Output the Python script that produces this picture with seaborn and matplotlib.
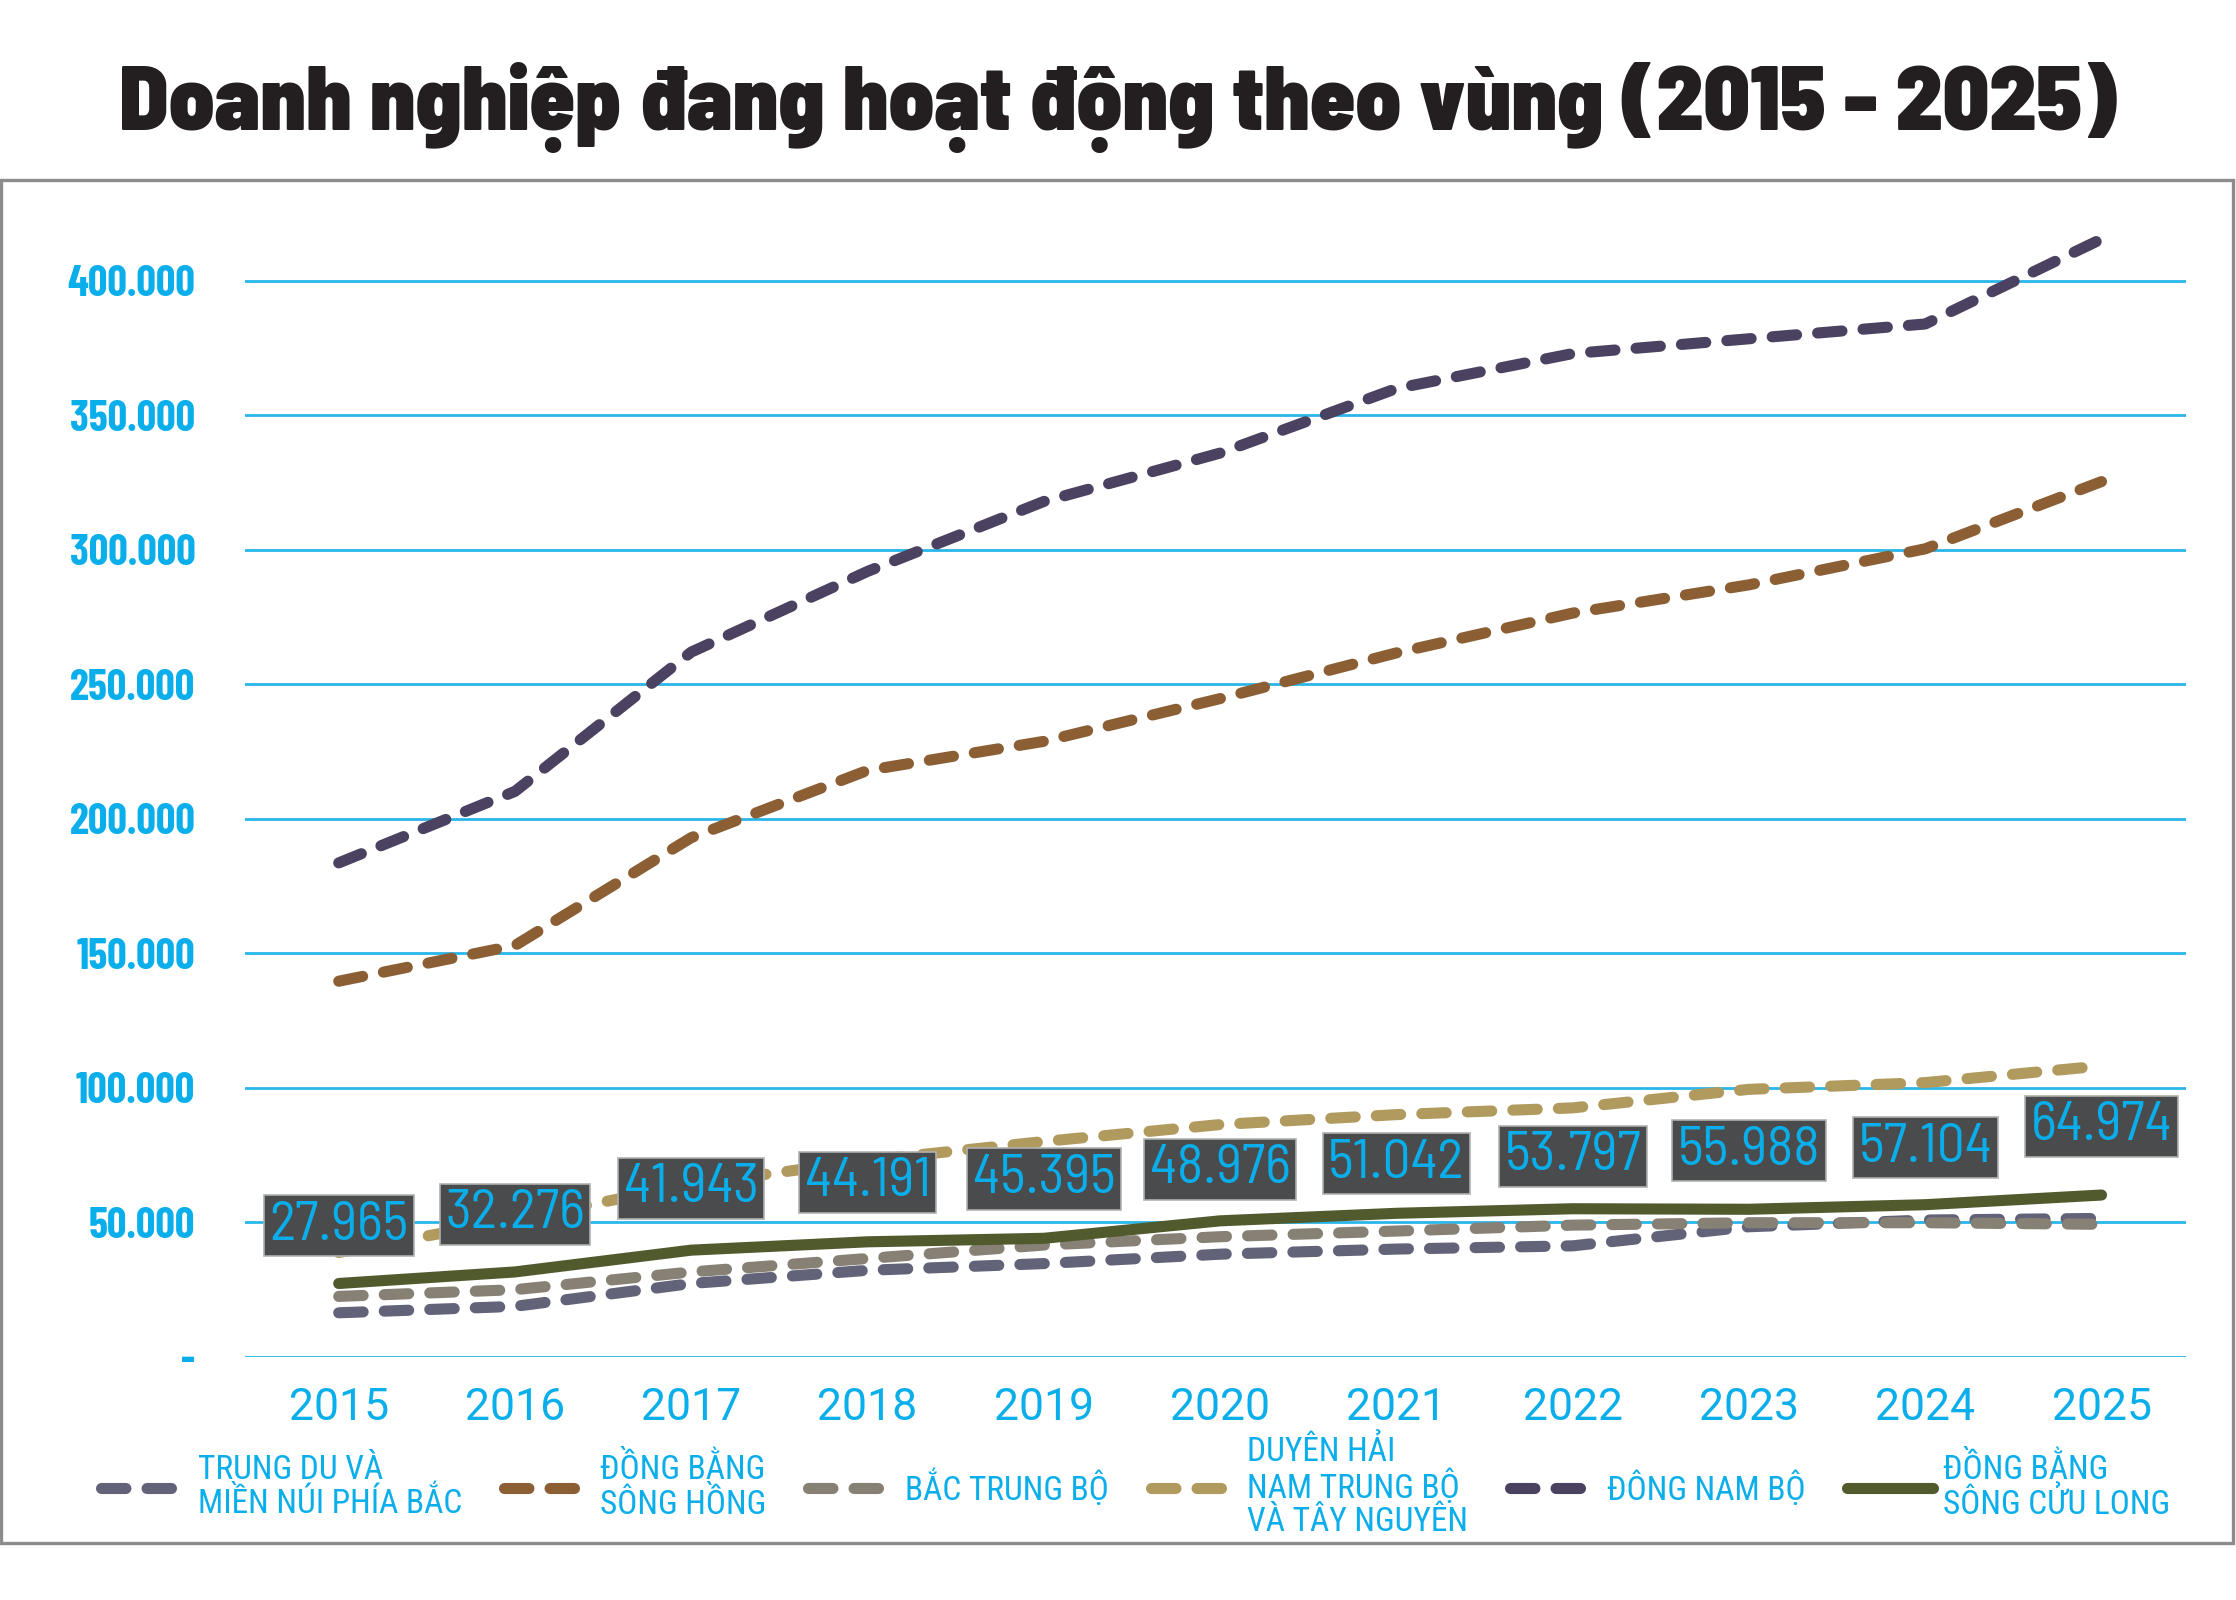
import numpy as np
import pandas as pd
import seaborn as sns
import matplotlib
matplotlib.use("Agg")
import matplotlib.pyplot as plt
from matplotlib.patches import Rectangle

# data
years = [2015, 2016, 2017, 2018, 2019, 2020, 2021, 2022, 2023, 2024, 2025]
trung_du = [16300, 18700, 27200, 32100, 34600, 38100, 40000, 41200, 48300, 50800, 51400]
dong_bang_song_hong = [139600, 152900, 193000, 218000, 228800, 244700, 261700, 276500, 287000, 300400, 325400]
bac_trung_bo = [22400, 24900, 31500, 36500, 41500, 44600, 46700, 48900, 49800, 49800, 49200]
duyen_hai = [38700, 51000, 64000, 73000, 80000, 86300, 90000, 92500, 99400, 101900, 108100]
dong_nam_bo = [183600, 210200, 262000, 292000, 318000, 336000, 360000, 373000, 378500, 384000, 415600]
song_cuu_long = [27200, 31500, 39600, 42700, 44000, 50500, 53300, 55000, 54800, 56500, 60100]
cuu_long_labels = [27965, 32276, 41943, 44191, 45395, 48976, 51042, 53797, 55988, 57104, 64974]

series_names = ["TRUNG DU VÀ\nMIỀN NÚI PHÍA BẮC", "ĐỒNG BẰNG\nSÔNG HỒNG", "BẮC TRUNG BỘ",
                "DUYÊN HẢI\nNAM TRUNG BỘ\nVÀ TÂY NGUYÊN", "ĐÔNG NAM BỘ", "ĐỒNG BẰNG\nSÔNG CỬU LONG"]
series_values = [trung_du, dong_bang_song_hong, bac_trung_bo, duyen_hai, dong_nam_bo, song_cuu_long]
colors = ["#626378", "#8b5e34", "#878075", "#b09a5e", "#4a4260", "#515a2d"]
y_ticks = [0, 50000, 100000, 150000, 200000, 250000, 300000, 350000, 400000]

CYAN = "#0aaeea"
TITLE_FONT = ["Barlow Semi Condensed", "DejaVu Sans"]
TICK_FONT = ["Barlow Condensed", "DejaVu Sans"]
TEXT_FONT = ["Roboto Condensed", "DejaVu Sans"]

sns.set_theme(style="white")
plt.rcParams["font.family"] = TEXT_FONT
plt.rcParams["lines.dash_capstyle"] = "round"
plt.rcParams["lines.solid_capstyle"] = "round"

fig = plt.figure(figsize=(11.18, 8.0), dpi=200)
ax = fig.add_axes([0.1097, 0.1521, 0.868, 0.6723 * 430000 / 400000])

for name, vals, col in zip(series_names, series_values, colors):
    df = pd.DataFrame({"year": years, "value": vals})
    sns.lineplot(data=df, x="year", y="value", ax=ax, color=col, lw=4.0, label=name)
    if "CỬU LONG" not in name:
        ax.lines[-1].set_dashes((2.2, 1.9))

ax.set_xlim(2014.47, 2025.48)
ax.set_ylim(0, 430000)
ax.set_yticks(y_ticks)
ax.set_yticklabels(["-" if v == 0 else f"{v:,}".replace(",", ".") for v in y_ticks])
ax.set_xticks(years)
ax.set_xticklabels([str(y) for y in years])
ax.tick_params(axis="y", length=0, pad=18, labelsize=15.5, labelcolor=CYAN)
ax.tick_params(axis="x", length=0, pad=11, labelsize=16, labelcolor=CYAN)
for lab in ax.get_yticklabels():
    lab.set_fontweight(700)
    lab.set_family(TICK_FONT)
for lab in ax.get_xticklabels():
    lab.set_family(["Roboto", "DejaVu Sans"])
ax.set_xlabel("")
ax.set_ylabel("")
ax.grid(axis="y", color="#29b6e8", lw=1.0)
ax.grid(axis="x", visible=False)
ax.set_axisbelow(True)
for s in ax.spines.values():
    s.set_visible(False)

# value boxes for Đồng bằng sông Cửu Long
for yr, v in zip(years, cuu_long_labels):
    ax.annotate(f"{v:,}".replace(",", "."), xy=(yr, v), xytext=(0, 20), textcoords="offset points",
                ha="center", va="center", fontsize=20, color=CYAN, zorder=5,
                family=["Barlow Semi Condensed", "DejaVu Sans"],
                bbox=dict(boxstyle="square,pad=0.1", fc="#4a4b4d", ec="#b0b0b0", lw=0.6))

handles, labels = ax.get_legend_handles_labels()
ax.get_legend().remove()
leg = fig.legend(handles, labels, loc="center", bbox_to_anchor=(0.508, 0.0706), ncol=6, frameon=False,
                 labelcolor=CYAN, handlelength=2.6, handletextpad=0.3, columnspacing=1.25,
                 labelspacing=0.2, prop={"family": TEXT_FONT, "size": 12})
for t in leg.get_texts():
    t.set_linespacing(1.05)

fig.add_artist(Rectangle((0.0005, 0.0356), 0.998, 0.852, transform=fig.transFigure,
                         fill=False, ec="#8c8c8c", lw=1.2))

fig.text(0.5, 1 - 130 / 1600, "Doanh nghiệp đang hoạt động theo vùng (2015 - 2025)",
         ha="center", va="baseline", fontsize=32.5, fontweight="black", color="#231f20",
         family=TITLE_FONT)

fig.savefig("out.png", dpi=200, facecolor="white")
